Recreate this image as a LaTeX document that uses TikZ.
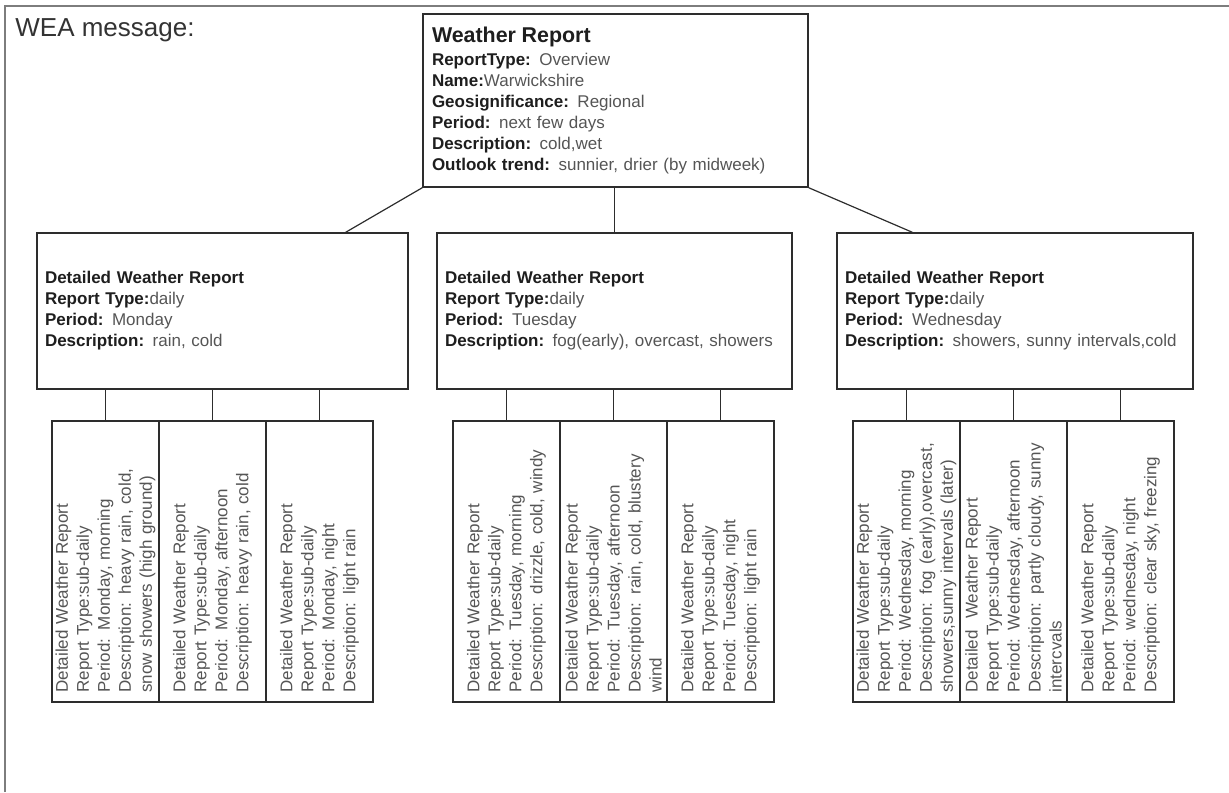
\documentclass[tikz,border=0pt]{standalone}
\usepackage{fontspec}
\setmainfont{Liberation Sans}
\usetikzlibrary{positioning,calc}
\definecolor{framegray}{RGB}{125,125,125}
\definecolor{linedark}{RGB}{45,45,45}
\definecolor{labeltext}{RGB}{30,30,30}
\definecolor{valuetext}{RGB}{85,85,85}
\newcommand{\pxu}{0.5pt}
\newcommand{\boxfont}{\fontsize{8.5}{10.5}\selectfont}
\newcommand{\fld}[1]{\textbf{\color{labeltext}#1}}

\tikzset{
  reportbox/.style={draw=linedark, line width=0.75pt, align=left, font=\boxfont,
    text=valuetext, inner xsep=8*\pxu, inner ysep=0pt},
  subbox/.style={draw=linedark, line width=0.75pt, minimum width=107*\pxu,
    minimum height=281*\pxu, inner sep=0pt, outer sep=0pt},
  subtext/.style={rotate=90, align=left, text width=262*\pxu, font=\boxfont,
    text=valuetext, inner sep=0pt},
  link/.style={draw=linedark, line width=0.6pt}
}

\begin{document}
\begin{tikzpicture}[x=0.5pt,y=-0.5pt]
\useasboundingbox (0,0) rectangle (1229,792);

% outer frame and title
\draw[framegray, line width=1pt] (5,792) -- (5,6) -- (1229,6);
\node[anchor=base west, inner sep=0pt, text=black!80, font=\fontsize{13}{15}\selectfont] (wealabel) at (15,37) {WEA message:};

% overview report
\node[reportbox, text width=367*\pxu, minimum height=173*\pxu, inner xsep=9*\pxu] (overview) at (615.5,100.5) {%
{\fontsize{10.7}{12}\selectfont\fld{Weather Report}}\\[1pt]
\fld{ReportType:} Overview\\
\fld{Name:}Warwickshire\\
\fld{Geosignificance:} Regional\\
\fld{Period:} next few days\\
\fld{Description:} cold,wet\\
\fld{Outlook trend:} sunnier, drier (by midweek)};

% daily reports
\node[reportbox, text width=355*\pxu, minimum height=156*\pxu] (monday) at (222.5,311) {%
\fld{Detailed Weather Report}\\
\fld{Report Type:}daily\\
\fld{Period:} Monday\\
\fld{Description:} rain, cold};
\node[reportbox, text width=339*\pxu, minimum height=156*\pxu] (tuesday) at (614.5,311) {%
\fld{Detailed Weather Report}\\
\fld{Report Type:}daily\\
\fld{Period:} Tuesday\\
\fld{Description:} fog(early), overcast, showers};
\node[reportbox, text width=340*\pxu, minimum height=156*\pxu] (wednesday) at (1015,311) {%
\fld{Detailed Weather Report}\\
\fld{Report Type:}daily\\
\fld{Period:} Wednesday\\
\fld{Description:} showers, sunny intervals,cold};

\coordinate (mondayjoin) at ($(monday.north east)+(-63,0)$);
\coordinate (wednesdayjoin) at ($(wednesday.north west)+(76,0)$);
\draw[link] (overview.south west) -- (mondayjoin);
\draw[link] (tuesday.north |- overview.south) -- (tuesday.north);
\draw[link] (overview.south east) -- (wednesdayjoin);

% sub-daily reports
\node[subbox] (monmorning) at (105.5,561.5) {};
\node[subbox, right=0pt of monmorning] (monafternoon) {};
\node[subbox, right=0pt of monafternoon] (monnight) {};
\node[subbox] (tuemorning) at (506.5,561.5) {};
\node[subbox, right=0pt of tuemorning] (tueafternoon) {};
\node[subbox, right=0pt of tueafternoon] (tuenight) {};
\node[subbox] (wedmorning) at (906.5,561.5) {};
\node[subbox, right=0pt of wedmorning] (wedafternoon) {};
\node[subbox, right=0pt of wedafternoon] (wednight) {};

\node[subtext] (monmorningtext) at (monmorning) {Detailed Weather Report\\ Report Type:sub-daily\\ Period: Monday, morning\\ Description: heavy rain, cold,\\ snow showers (high ground)};
\node[subtext] (monafternoontext) at (monafternoon) {Detailed Weather Report\\ Report Type:sub-daily\\ Period: Monday, afternoon\\ Description: heavy rain, cold};
\node[subtext] (monnighttext) at (monnight) {Detailed Weather Report\\ Report Type:sub-daily\\ Period: Monday, night\\ Description: light rain};
\node[subtext] (tuemorningtext) at (tuemorning) {Detailed Weather Report\\ Report Type:sub-daily\\ Period: Tuesday, morning\\ Description: drizzle, cold, windy};
\node[subtext] (tueafternoontext) at (tueafternoon) {Detailed Weather Report\\ Report Type:sub-daily\\ Period: Tuesday, afternoon\\ Description: rain, cold, blustery\\ wind};
\node[subtext] (tuenighttext) at (tuenight) {Detailed Weather Report\\ Report Type:sub-daily\\ Period: Tuesday, night\\ Description: light rain};
\node[subtext] (wedmorningtext) at (wedmorning) {Detailed Weather Report\\ Report Type:sub-daily\\ Period: Wednesday, morning\\ Description: fog (early),overcast,\\ showers,sunny intervals (later)};
\node[subtext] (wedafternoontext) at (wedafternoon) {Detailed\ \ Weather Report\\ Report Type:sub-daily\\ Period: Wednesday, afternoon\\ Description: partly cloudy, sunny\\ intercvals};
\node[subtext] (wednighttext) at (wednight) {Detailed Weather Report\\ Report Type:sub-daily\\ Period: wednesday, night\\ Description: clear sky, freezing};

\foreach \day/\part in {monday/monmorning, monday/monafternoon, monday/monnight,
    tuesday/tuemorning, tuesday/tueafternoon, tuesday/tuenight,
    wednesday/wedmorning, wednesday/wedafternoon, wednesday/wednight}
  \draw[link] (\part.north) -- (\part.north |- \day.south);
\end{tikzpicture}
\end{document}
